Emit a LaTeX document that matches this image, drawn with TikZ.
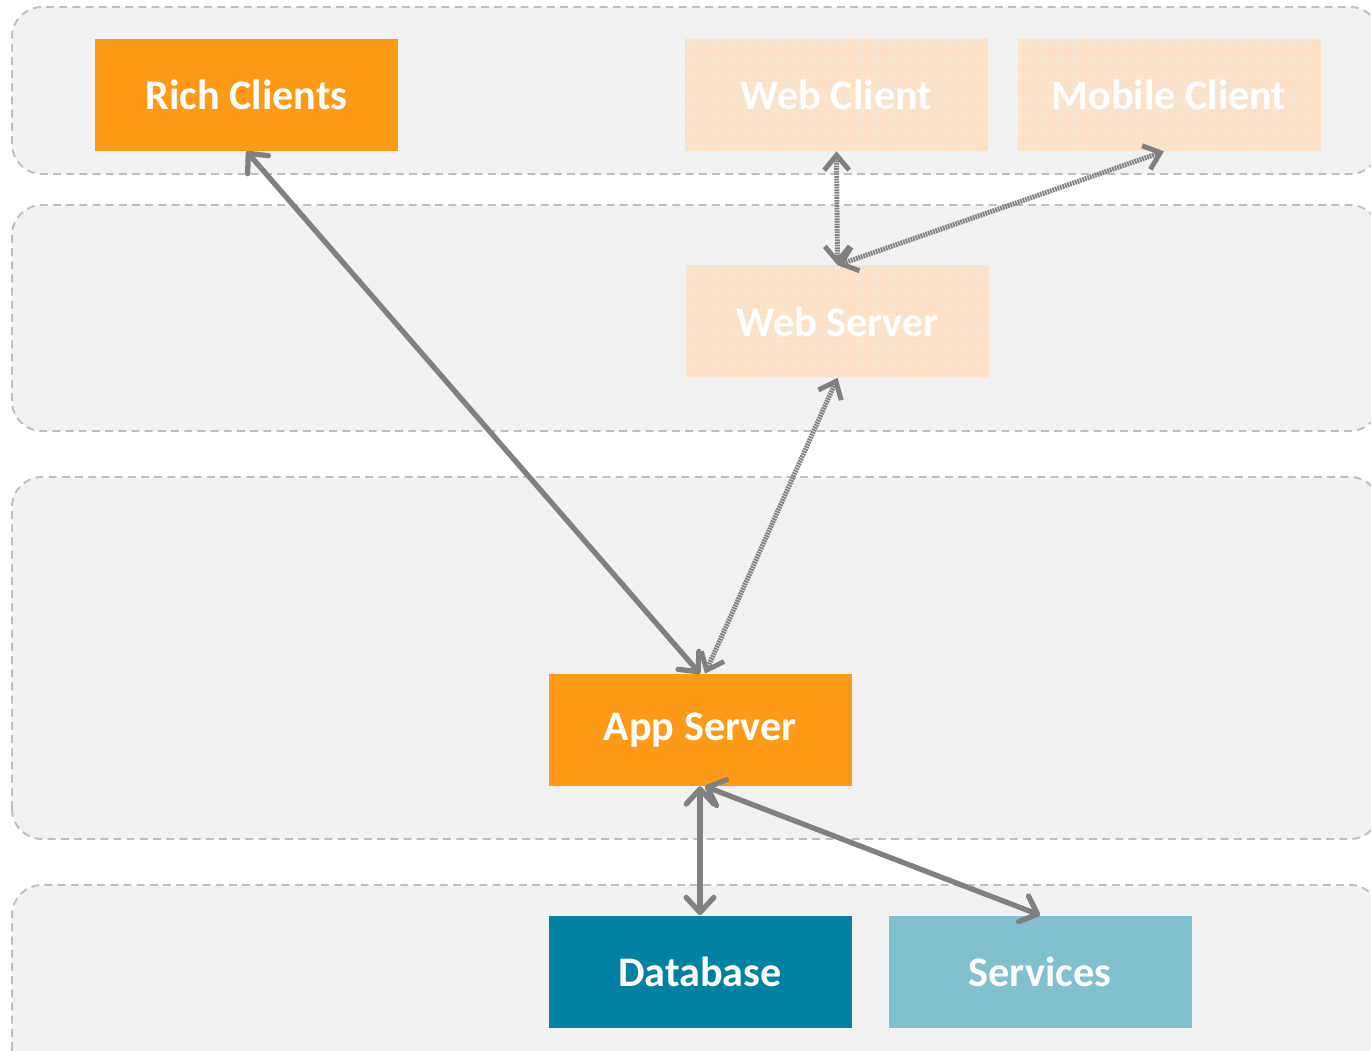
\documentclass[tikz,border=0pt]{standalone}
\usepackage{fontspec}
\setmainfont{Carlito}
\usetikzlibrary{arrows.meta,patterns}
\definecolor{tierfill}{RGB}{242,242,242}
\definecolor{tierline}{RGB}{191,191,191}
\definecolor{appor}{RGB}{253,154,24}
\definecolor{ghostor}{RGB}{247,229,208}
\definecolor{dbblue}{RGB}{2,130,163}
\definecolor{svcblue}{RGB}{128,192,207}
\definecolor{linkgray}{RGB}{128,128,128}
\tikzset{every picture/.style={font=\bfseries\fontsize{24}{28}\selectfont},
  tier/.style={fill=tierfill,draw=tierline,line width=1.1pt,dash pattern=on 4.5pt off 3pt,rounded corners=0.6cm},
  box/.style={minimum width=6.06cm,minimum height=2.24cm,inner sep=0pt,text=white},
  ghost/.style={box,fill=ghostor,postaction={pattern=grid,pattern color=orange!25}},
  link/.style={draw=linkgray,line width=3pt,{Straight Barb[length=3mm,width=5.5mm,round]}-{Straight Barb[length=3mm,width=5.5mm,round]}},
  weblink/.style={draw=linkgray,line width=2.8pt,dash pattern=on 1pt off 0.5pt,{Straight Barb[length=3mm,width=5mm]}-{Straight Barb[length=3mm,width=5mm]}}}

\begin{document}
\begin{tikzpicture}
\useasboundingbox (0,0) rectangle (27.42,21);
\begin{scope}
\clip (0,0) rectangle (27.42,21);
\draw[tier] (0.24,17.52) rectangle (27.6,20.86);
\draw[tier] (0.24,12.38) rectangle (27.6,16.9);
\draw[tier] (0.24,4.22) rectangle (27.6,11.46);
\draw[tier] (0.24,-0.6) rectangle (27.6,3.3);
\end{scope}
\node[box,fill=appor] (rich) at (4.93,19.1) {Rich Clients};
\node[ghost] (webcl) at (16.73,19.1) {Web Client};
\node[ghost] (mobile) at (23.38,19.1) {Mobile Client};
\node[ghost] (websrv) at (16.75,14.57) {Web Server};
\node[box,fill=appor] (app) at (14,6.4) {App Server};
\node[box,fill=dbblue] (db) at (14,1.57) {Database};
\node[box,fill=svcblue] (svc) at (20.8,1.57) {Services};
\draw[weblink] (webcl.south) -- (websrv.north);
\draw[weblink] (websrv.north) -- ([xshift=-0.1cm]mobile.south);
\draw[weblink] (websrv.south) -- ([xshift=0.1cm]app.north);
\draw[link] (rich.south) -- (app.north);
\draw[link] (app.south) -- (db.north);
\draw[link] ([xshift=0.1cm]app.south) -- (svc.north);
\end{tikzpicture}
\end{document}
